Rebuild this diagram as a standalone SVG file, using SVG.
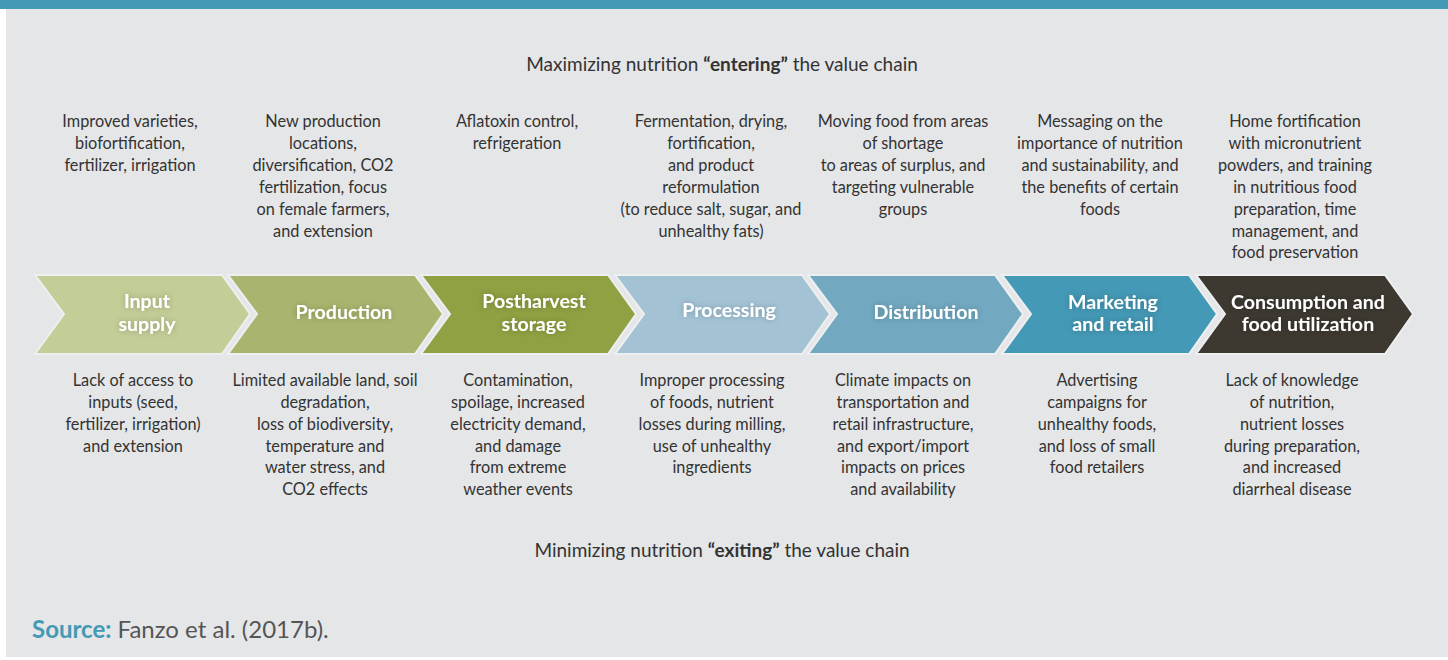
<svg xmlns="http://www.w3.org/2000/svg" width="1448" height="660" viewBox="0 0 1448 660">
<defs>
<style>
.body{font-family:Lato,"Liberation Sans",sans-serif;font-size:16.3px;fill:#333333;text-anchor:middle}
.hdr{font-family:Lato,"Liberation Sans",sans-serif;font-size:19px;fill:#333333;text-anchor:middle}
.lbl{font-family:Lato,"Liberation Sans",sans-serif;font-size:19.6px;font-weight:bold;fill:#ffffff;text-anchor:middle;filter:url(#glow)}
.gap{stroke:#eeeff0;stroke-width:2}
</style>
<filter id="glow" x="-20%" y="-50%" width="140%" height="200%">
<feGaussianBlur in="SourceAlpha" stdDeviation="3" result="b"/>
<feFlood flood-color="#000000" flood-opacity="0.25"/>
<feComposite in2="b" operator="in" result="s"/>
<feMerge><feMergeNode in="s"/><feMergeNode in="SourceGraphic"/></feMerge>
</filter>
</defs>
<rect x="0" y="0" width="1448" height="660" fill="#ffffff"/>
<rect x="6" y="0" width="1442" height="657" fill="#e5e6e8"/>
<rect x="0" y="0" width="1448" height="9" fill="#4499b6"/>

<text class="hdr" x="722" y="71">Maximizing nutrition <tspan font-weight="bold">“entering”</tspan> the value chain</text>
<text class="hdr" x="722" y="557">Minimizing nutrition <tspan font-weight="bold">“exiting”</tspan> the value chain</text>

<g id="input-supply">
<polygon class="gap" points="35,275 222,275 250,314 222,354 35,354 64,314" fill="#c3cd97"/>
<text class="lbl" x="147" y="308">Input</text>
<text class="lbl" x="147" y="331">supply</text>
<g class="body">
<text x="130" y="127">Improved varieties,</text>
<text x="130" y="149">biofortification,</text>
<text x="130" y="171">fertilizer, irrigation</text>
<text x="133" y="386">Lack of access to</text>
<text x="133" y="408">inputs (seed,</text>
<text x="133" y="430">fertilizer, irrigation)</text>
<text x="133" y="452">and extension</text>
</g>
</g>

<g id="production">
<polygon class="gap" points="228,275 415,275 443,314 415,354 228,354 257,314" fill="#a9b56e"/>
<text class="lbl" x="344" y="319">Production</text>
<g class="body">
<text x="323" y="127">New production</text>
<text x="323" y="149">locations,</text>
<text x="323" y="171">diversification, CO2</text>
<text x="323" y="193">fertilization, focus</text>
<text x="323" y="215">on female farmers,</text>
<text x="323" y="237">and extension</text>
<text x="325" y="386">Limited available land, soil</text>
<text x="325" y="408">degradation,</text>
<text x="325" y="430">loss of biodiversity,</text>
<text x="325" y="452">temperature and</text>
<text x="325" y="473">water stress, and</text>
<text x="325" y="495">CO2 effects</text>
</g>
</g>

<g id="postharvest-storage">
<polygon class="gap" points="421,275 608,275 636,314 608,354 421,354 450,314" fill="#8fa142"/>
<text class="lbl" x="534" y="308">Postharvest</text>
<text class="lbl" x="534" y="331">storage</text>
<g class="body">
<text x="517" y="127">Aflatoxin control,</text>
<text x="517" y="149">refrigeration</text>
<text x="518" y="386">Contamination,</text>
<text x="518" y="408">spoilage, increased</text>
<text x="518" y="430">electricity demand,</text>
<text x="518" y="452">and damage</text>
<text x="518" y="473">from extreme</text>
<text x="518" y="495">weather events</text>
</g>
</g>

<g id="processing">
<polygon class="gap" points="615,275 802,275 830,314 802,354 615,354 644,314" fill="#a3c3d5"/>
<text class="lbl" x="729" y="317">Processing</text>
<g class="body">
<text x="711" y="127">Fermentation, drying,</text>
<text x="711" y="149">fortification,</text>
<text x="711" y="171">and product</text>
<text x="711" y="193">reformulation</text>
<text x="711" y="215">(to reduce salt, sugar, and</text>
<text x="711" y="237">unhealthy fats)</text>
<text x="712" y="386">Improper processing</text>
<text x="712" y="408">of foods, nutrient</text>
<text x="712" y="430">losses during milling,</text>
<text x="712" y="452">use of unhealthy</text>
<text x="712" y="473">ingredients</text>
</g>
</g>

<g id="distribution">
<polygon class="gap" points="808,275 995,275 1023,314 995,354 808,354 837,314" fill="#72a9c1"/>
<text class="lbl" x="926" y="319">Distribution</text>
<g class="body">
<text x="903" y="127">Moving food from areas</text>
<text x="903" y="149">of shortage</text>
<text x="903" y="171">to areas of surplus, and</text>
<text x="903" y="193">targeting vulnerable</text>
<text x="903" y="215">groups</text>
<text x="903" y="386">Climate impacts on</text>
<text x="903" y="408">transportation and</text>
<text x="903" y="430">retail infrastructure,</text>
<text x="903" y="452">and export/import</text>
<text x="903" y="473">impacts on prices</text>
<text x="903" y="495">and availability</text>
</g>
</g>

<g id="marketing-retail">
<polygon class="gap" points="1002,275 1189,275 1217,314 1189,354 1002,354 1031,314" fill="#4499b6"/>
<text class="lbl" x="1113" y="309">Marketing</text>
<text class="lbl" x="1113" y="331">and retail</text>
<g class="body">
<text x="1100" y="127">Messaging on the</text>
<text x="1100" y="149">importance of nutrition</text>
<text x="1100" y="171">and sustainability, and</text>
<text x="1100" y="193">the benefits of certain</text>
<text x="1100" y="215">foods</text>
<text x="1097" y="386">Advertising</text>
<text x="1097" y="408">campaigns for</text>
<text x="1097" y="430">unhealthy foods,</text>
<text x="1097" y="452">and loss of small</text>
<text x="1097" y="473">food retailers</text>
</g>
</g>

<g id="consumption">
<polygon class="gap" points="1196,275 1385,275 1413,314 1385,354 1196,354 1225,314" fill="#3d3830"/>
<text class="lbl" x="1308" y="309">Consumption and</text>
<text class="lbl" x="1308" y="331">food utilization</text>
<g class="body">
<text x="1295" y="127">Home fortification</text>
<text x="1295" y="149">with micronutrient</text>
<text x="1295" y="171">powders, and training</text>
<text x="1295" y="193">in nutritious food</text>
<text x="1295" y="215">preparation, time</text>
<text x="1295" y="237">management, and</text>
<text x="1295" y="258">food preservation</text>
<text x="1292" y="386">Lack of knowledge</text>
<text x="1292" y="408">of nutrition,</text>
<text x="1292" y="430">nutrient losses</text>
<text x="1292" y="452">during preparation,</text>
<text x="1292" y="473">and increased</text>
<text x="1292" y="495">diarrheal disease</text>
</g>
</g>

<g id="connectors"></g>

<text x="32" y="638" font-family="Lato,'Liberation Sans',sans-serif" font-size="24" fill="#555555"><tspan font-weight="bold" fill="#4499b6">Source:</tspan> Fanzo et al. (2017b).</text>
</svg>
